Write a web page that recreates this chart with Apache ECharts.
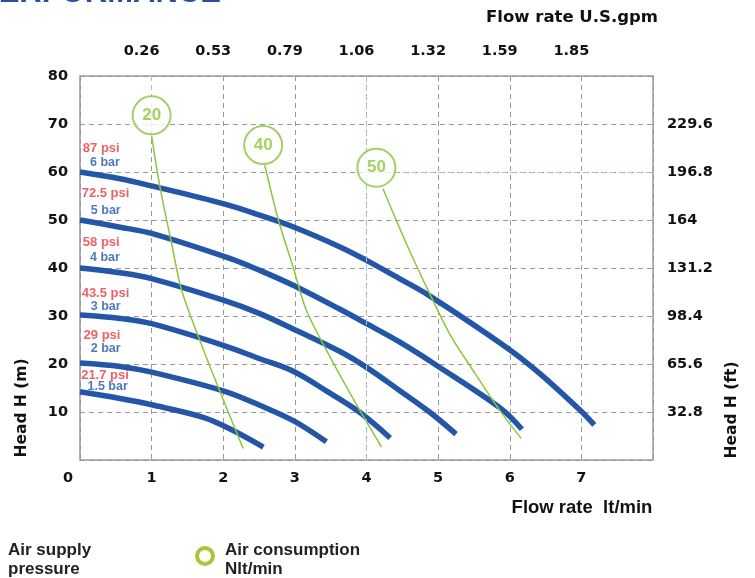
<!DOCTYPE html>
<html><head><meta charset="utf-8">
<script src="https://cdn.jsdelivr.net/npm/echarts@6/dist/echarts.min.js"></script>
<style>html,body{margin:0;padding:0;background:#fff}#c{width:755px;height:578px}</style>
</head><body><div id="c"></div><script>
// Flow rate U.S. gpm tick labels on top axis (for 1..7 lt/min)
const gpmLabels = ['0.26','0.53','0.79','1.06','1.32','1.59','1.85'];
// Head in feet labels for 10..70 m
const ftLabels = ['32.8','65.6','98.4','131.2','164','196.8','229.6'];

// Pump curves [flow lt/min, head m]
const curve6bar = [[0,60],[0.56,58.6],[1,57.1],[2,53.4],[2.51,51],[2.99,48.5],[3.63,44.4],[4,41.6],[4.46,37.8],[4.86,34.4],[5.95,23.5],[6.42,18],[6.98,10.4],[7.18,7.3]];
const curve5bar = [[0,50],[0.56,48.5],[1,47.2],[2.09,42],[2.51,39.5],[2.99,36.3],[3.63,31.4],[4,28.4],[4.46,24.6],[4.97,19.8],[5.87,10.8],[6.17,6.4]];
const curve4bar = [[0,40],[0.56,39],[1,37.8],[2,33.3],[2.51,30.5],[2.99,27.2],[3.63,22.6],[4,19.3],[4.46,14.5],[4.88,10],[5.25,5.4]];
const curve3bar = [[0,30.2],[0.56,29.5],[1,28.4],[2,23.9],[2.51,21.1],[2.99,18.4],[3.45,14.3],[3.9,10],[4.33,4.6]];
const curve2bar = [[0,20.2],[0.56,19.5],[1,18.3],[2,14.4],[2.51,11.4],[2.99,8.1],[3.44,3.8]];
const curve15bar = [[0,14.2],[0.56,12.8],[1,11.5],[1.72,8.9],[2.09,6.5],[2.56,2.7]];

// Air consumption lines (Nlt/min)
const air20 = [[1.0,67.6],[1.116,56.9],[1.279,45.1],[1.418,35.4],[1.674,24.9],[1.929,15.2],[2.278,2.4]];
const air40 = [[2.58,61.4],[2.77,50],[2.975,40.2],[3.16,31.2],[3.44,22.9],[3.67,16.6],[3.905,10.4],[4.21,2.7]];
const air50 = [[4.23,56.5],[4.556,45.1],[4.858,35.4],[5.16,26.3],[5.486,18.7],[5.858,10.4],[6.16,4.5]];
const airBadges = [[1.0,71.8,'20'],[2.557,65.6,'40'],[4.138,60.9,'50']];

// Pressure labels [flow, head, text]
const psiLabels = [[0.297,65,'87 psi'],[0.356,55.5,'72.5 psi'],[0.297,45.4,'58 psi'],[0.356,34.7,'43.5 psi'],[0.307,26,'29 psi'],[0.349,17.6,'21.7 psi']];
const barLabels = [[0.349,62.0,'6 bar'],[0.36,51.9,'5 bar'],[0.349,42.2,'4 bar'],[0.358,31.9,'3 bar'],[0.358,23.3,'2 bar'],[0.386,15.3,'1.5 bar']];

// Light teal highlighted grid segments [[x1,y1],[x2,y2]]
const tealGrid = [[[4,0],[4,80]],[[4,60],[8,60]],[[1,80],[1,71.8]]];

const FONT = '"Liberation Sans", Arial, sans-serif';
const WIDE = '"DejaVu Sans", Verdana, sans-serif';
const BLUE = '#2356a6', GREEN = '#8cc63f', RED = '#e8383d';

const chart = echarts.init(document.getElementById('c'));
const blue = (d) => ({type:'line', data:d, smooth:0.35, showSymbol:false, silent:true,
  lineStyle:{color:BLUE, width:5.5, cap:'butt'}, z:3});
const green = (d) => ({type:'line', data:d, smooth:0.3, showSymbol:false, silent:true,
  lineStyle:{color:GREEN, width:1.5}, z:4});
const lblText = {fontFamily:WIDE, fontWeight:'bold', fontSize:14.5, color:'#111'};

chart.setOption({
  animation:false,
  grid:{left:80, top:76, right:102, bottom:118, show:true, borderColor:'#9a9a9a', borderWidth:1.5},
  xAxis:[
    {type:'value', min:0, max:8, interval:1, position:'bottom',
     axisLine:{show:false}, axisTick:{show:false},
     axisLabel:Object.assign({margin:11, formatter:v => v===0 ? '{z|0}' : (v<=7 ? String(v) : ''),
       rich:{z:{fontFamily:WIDE, fontWeight:'bold', fontSize:14.5, color:'#111', padding:[0,24,0,0]}}}, lblText),
     splitLine:{show:true, lineStyle:{color:'#999', type:[5,4], width:1}}},
    {type:'value', min:0, max:8, interval:1, position:'top',
     axisLine:{show:false}, axisTick:{show:false}, splitLine:{show:false},
     axisLabel:Object.assign({margin:17, padding:[0,20,0,0], formatter:v => (v>=1 && v<=7) ? gpmLabels[v-1] : ''}, lblText)}
  ],
  yAxis:[
    {type:'value', min:0, max:80, interval:10, position:'left',
     axisLine:{show:false}, axisTick:{show:false},
     axisLabel:Object.assign({margin:12, formatter:v => v===0 ? '' : String(v)}, lblText),
     splitLine:{show:true, lineStyle:{color:'#999', type:[5,4], width:1}}},
    {type:'value', min:0, max:80, interval:10, position:'right',
     axisLine:{show:false}, axisTick:{show:false}, splitLine:{show:false},
     axisLabel:Object.assign({margin:14, formatter:v => (v>=10 && v<=70) ? ftLabels[v/10-1] : ''}, lblText)}
  ],
  series:[
    {type:'line', data:[], silent:true, z:2,
     markLine:{silent:true, symbol:'none', label:{show:false},
       lineStyle:{color:'#9cc8cc', type:[5,4], width:1},
       data:tealGrid.map(s => [{coord:s[0]},{coord:s[1]}])}},
    blue(curve6bar), blue(curve5bar), blue(curve4bar), blue(curve3bar), blue(curve2bar), blue(curve15bar),
    green(air20), green(air40), green(air50),
    {type:'scatter', data:airBadges, symbol:'circle', symbolSize:38, silent:true, z:6,
     itemStyle:{color:'#fff', borderColor:GREEN, borderWidth:2},
     label:{show:true, position:'inside', formatter:p => p.data[2], color:GREEN, fontFamily:FONT, fontWeight:'bold', fontSize:17}},
    {type:'scatter', data:psiLabels, symbolSize:0, silent:true, z:7,
     label:{show:true, position:'inside', formatter:p => p.data[2], color:RED, fontFamily:FONT, fontWeight:'bold', fontSize:13}},
    {type:'scatter', data:barLabels, symbolSize:0, silent:true, z:7,
     label:{show:true, position:'inside', formatter:p => p.data[2],
       color:BLUE, fontFamily:FONT, fontWeight:'bold', fontSize:12.5}}
  ],
  graphic:[
    {type:'text', left:-22, top:-22, style:{text:'PERFORMANCE', fill:'#2b4f9e', font:'bold 31px '+FONT}},
    {type:'text', x:572, y:18, style:{text:'Flow rate U.S.gpm', fill:'#111', font:'bold 16.5px '+WIDE, textAlign:'center', textVerticalAlign:'middle'}},
    {type:'text', x:582, y:508, style:{text:'Flow rate  lt/min', fill:'#111', font:'bold 18.5px '+FONT, textAlign:'center', textVerticalAlign:'middle'}},
    {type:'text', x:22, y:408, rotation:Math.PI/2, style:{text:'Head H (m)', fill:'#111', font:'bold 15.5px '+WIDE, textAlign:'center', textVerticalAlign:'middle'}},
    {type:'text', x:732, y:410, rotation:Math.PI/2, style:{text:'Head H (ft)', fill:'#111', font:'bold 15.5px '+WIDE, textAlign:'center', textVerticalAlign:'middle'}},
    {type:'text', x:8, y:550, style:{text:'Air supply', fill:'#222', font:'bold 17px '+FONT, textVerticalAlign:'middle'}},
    {type:'text', x:8, y:569, style:{text:'pressure', fill:'#222', font:'bold 17px '+FONT, textVerticalAlign:'middle'}},
    {type:'circle', shape:{cx:205, cy:556, r:8}, style:{fill:'none', stroke:'#a5c83a', lineWidth:4}},
    {type:'text', x:225, y:550, style:{text:'Air consumption', fill:'#222', font:'bold 17px '+FONT, textVerticalAlign:'middle'}},
    {type:'text', x:225, y:569, style:{text:'Nlt/min', fill:'#222', font:'bold 17px '+FONT, textVerticalAlign:'middle'}}
  ]
});
</script></body></html>
